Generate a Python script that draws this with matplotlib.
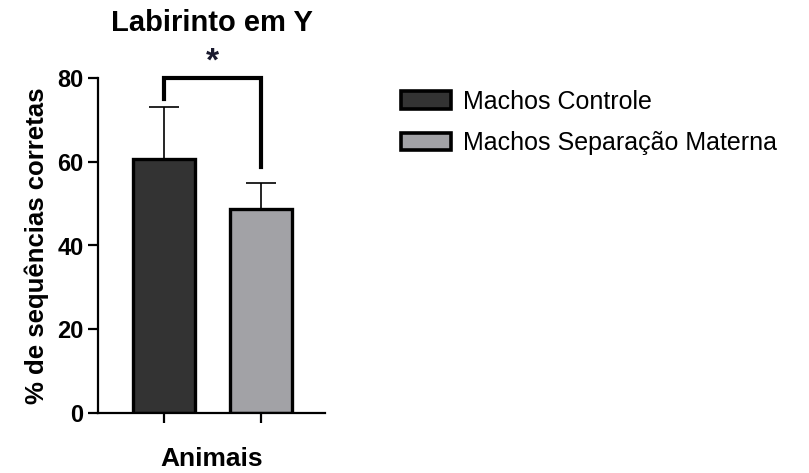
import matplotlib.pyplot as plt
from matplotlib.patches import Patch

plt.rcParams['font.family'] = ['Liberation Sans', 'DejaVu Sans']

groups = ['Machos Controle', 'Machos Separação Materna']
means = [60.7, 48.7]
errors = [12.4, 6.2]
colors = ['#333333', '#a2a2a6']
yticks = [0, 20, 40, 60, 80]

fig = plt.figure(figsize=(8.09, 4.73), dpi=100)
ax = fig.add_axes([98 / 809, 1 - 413 / 473, (325 - 98) / 809, (413 - 78) / 473])

x = [0, 1]
ax.bar(x, means, width=0.64, color=colors, edgecolor='black', linewidth=2.4, zorder=2)
# only the upper half of the error bar, like GraphPad
ax.errorbar(x, means, yerr=[[0, 0], errors], fmt='none', ecolor='black',
            elinewidth=1.2, capsize=11, capthick=1.2, zorder=1)

ax.set_xlim(-0.68, 1.66)
ax.set_ylim(0, 80)
ax.set_yticks(yticks)
ax.set_xticks(x)
ax.set_xticklabels([])
ax.spines['top'].set_visible(False)
ax.spines['right'].set_visible(False)
for s in ['left', 'bottom']:
    ax.spines[s].set_linewidth(1.6)
ax.tick_params(width=1.6, length=7, labelsize=17)
for lab in ax.get_yticklabels():
    lab.set_fontweight('bold')

ax.set_ylabel('% de sequências corretas', fontsize=18.5, fontweight='bold', labelpad=6)
ax.set_xlabel('Animais', fontsize=19, fontweight='bold', labelpad=14)
ax.set_title('Labirinto em Y', fontsize=21, fontweight='bold', pad=34)

# significance bracket
ax.plot([0, 0, 1, 1], [75, 80, 80, 58.7], color='black', linewidth=3,
        clip_on=False, solid_joinstyle='miter')
ax.text(0.5, 80.2, '*', ha='center', va='bottom', fontsize=24, fontweight='bold',
        color='#1a1a2e')

handles = [Patch(facecolor=c, edgecolor='black', linewidth=2.6) for c in colors]
fig.legend(handles, groups, loc='upper left', bbox_to_anchor=(378 / 809, 1 - 67 / 473),
           frameon=False, fontsize=18, handlelength=2.0, handleheight=0.7,
           labelspacing=0.7, handletextpad=0.5)

fig.savefig('out.png', dpi=100)
